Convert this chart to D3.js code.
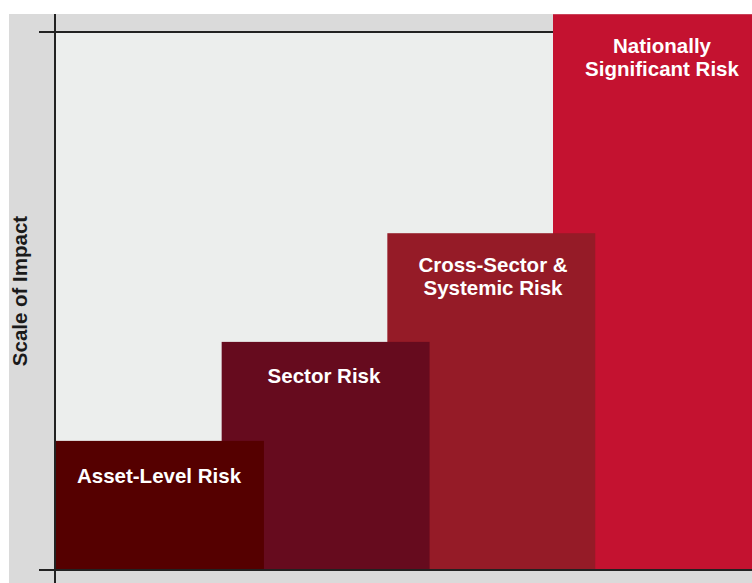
<!DOCTYPE html>
<html>
<head>
<meta charset="utf-8">
<script src="https://cdn.jsdelivr.net/npm/d3@7"></script>
<style>
  html, body { margin: 0; padding: 0; background: #fff; }
  svg { display: block; }
  text { font-family: "Liberation Sans", Arial, sans-serif; font-weight: bold; }
</style>
</head>
<body>
<div id="chart"></div>
<script>
// risk levels, left to right
var categories = ['Asset-Level Risk', 'Sector Risk', 'Cross-Sector & Systemic Risk', 'Nationally Significant Risk'];
var labelLines = [['Asset-Level Risk'], ['Sector Risk'], ['Cross-Sector &', 'Systemic Risk'], ['Nationally', 'Significant Risk']];
var impact = [24, 42.4, 62.6, 103.3];   // scale of impact, 0-100 (top axis line = 100)
var colors = ['#550000', '#660b1e', '#951b27', '#c41230'];
var axisLabel = 'Scale of Impact';

var width = 752, height = 583;
var margin = { top: 32, right: 0, bottom: 13, left: 56 };

var svg = d3.select('#chart').append('svg')
    .attr('width', width)
    .attr('height', height);

// outer gray panel and inner plot
svg.append('rect')
    .attr('x', 9).attr('y', 14)
    .attr('width', width - 9).attr('height', height - 14)
    .attr('fill', '#dadada');

var y = d3.scaleLinear().domain([0, 100]).range([height - margin.bottom, margin.top]);
// bars step along x, each one overlaps the next
var x = d3.scaleLinear().domain([0, 3]).range([margin.left, 553]);
var barW = x(1.255) - x(0);

svg.append('rect')
    .attr('x', margin.left).attr('y', y(100))
    .attr('width', width - margin.left).attr('height', y(0) - y(100))
    .attr('fill', '#eceeed');

// top axis line (sits behind the tallest bar)
svg.append('line')
    .attr('x1', 39).attr('x2', x(3))
    .attr('y1', y(100)).attr('y2', y(100))
    .attr('stroke', '#222').attr('stroke-width', 2);

var data = categories.map(function(c, i) {
  return { name: c, lines: labelLines[i], value: impact[i], color: colors[i], i: i };
});

// draw right-most first so earlier bars sit on top
var order = data.slice().reverse();

svg.selectAll('.bar').data(order).enter().append('rect')
    .attr('class', 'bar')
    .attr('x', function(d) { return x(d.i); })
    .attr('y', function(d) { return y(d.value); })
    .attr('width', function(d) { return Math.min(barW, width - x(d.i)); })
    .attr('height', function(d) { return y(0) - y(d.value); })
    .attr('fill', function(d) { return d.color; });

// labels
var labelY = [483, 383, 272, 53];
var labelX = [159, 324, 493, 662];
var lbl = svg.selectAll('.label').data(data).enter().append('text')
    .attr('class', 'label')
    .attr('text-anchor', 'middle')
    .attr('fill', '#fff')
    .attr('font-size', '20.5px')
    .attr('x', function(d) { return labelX[d.i]; })
    .attr('y', function(d) { return labelY[d.i]; });

lbl.selectAll('tspan').data(function(d) {
    return d.lines.map(function(t) { return { t: t, x: labelX[d.i] }; });
  }).enter().append('tspan')
    .attr('x', function(d) { return d.x; })
    .attr('dy', function(d, j) { return j === 0 ? 0 : 23; })
    .text(function(d) { return d.t; });

// bottom axis line
svg.append('line')
    .attr('x1', 39).attr('x2', width)
    .attr('y1', y(0)).attr('y2', y(0))
    .attr('stroke', '#222').attr('stroke-width', 2);

// vertical axis line
svg.append('line')
    .attr('x1', 55).attr('x2', 55)
    .attr('y1', 14).attr('y2', height)
    .attr('stroke', '#222').attr('stroke-width', 2);

// axis title
svg.append('text')
    .attr('transform', 'translate(27,291) rotate(-90)')
    .attr('text-anchor', 'middle')
    .attr('fill', '#1a1a1a')
    .attr('font-size', '20.5px')
    .text(axisLabel);
</script>
</body>
</html>
